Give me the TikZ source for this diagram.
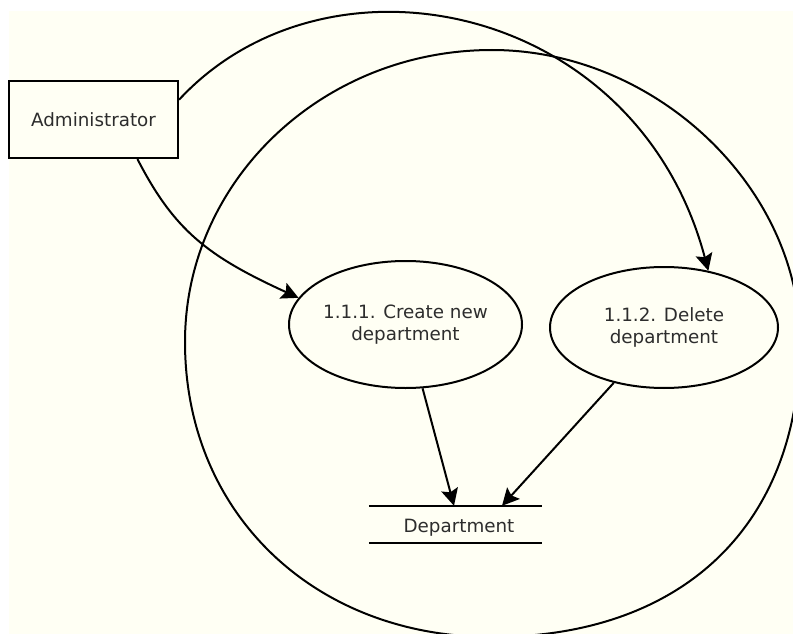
\documentclass[tikz,border=0pt]{standalone}
\usepackage{fontspec}
\setmainfont{DejaVu Sans}
\usetikzlibrary{arrows.meta,shapes.geometric}
\definecolor{bgcream}{RGB}{255,255,244}
\definecolor{txt}{RGB}{45,45,45}
\begin{document}
\begin{tikzpicture}[x=1pt,y=-1pt,
  every node/.style={font=\fontsize{18.3}{22}\selectfont, text=txt},
  entity/.style={draw, line width=2.1pt, minimum width=169pt, minimum height=77pt, inner sep=0pt},
  process/.style={draw, ellipse, line width=2pt, inner sep=0pt, align=center},
  flow/.style={line width=2pt, -{Stealth[length=17pt,width=17pt,inset=3pt]}},
  bigloop/.style={line width=2pt}]
\useasboundingbox (0,0) rectangle (793,634);
\clip (0,0) rectangle (793,634);
\fill[bgcream] (9,11) rectangle (793,634);
% large closed loop
\coordinate (L) at (185,342);
\coordinate (T) at (492,50);
\coordinate (R) at (800,342);
\coordinate (B) at (492,637);
\draw[bigloop] (L) .. controls (185,181) and (322,50) .. (T)
  .. controls (655,50) and (800,187) .. (R)
  .. controls (800,525) and (683,637) .. (B)
  .. controls (314,637) and (185,513) .. (L) -- cycle;
\node[entity] (admin) at (93.5,119.5) {Administrator};
\node[process, minimum width=233pt, minimum height=127pt] (create) at (405.5,324.5) {1.1.1. Create new\\department};
\node[process, minimum width=228pt, minimum height=121pt] (delete) at (664,327.5) {1.1.2. Delete\\department};
\node[minimum width=173pt, minimum height=37pt, inner sep=0pt] (store) at (455.5,524.5) {};
\node[anchor=base] (storelabel) at (459,532) {Department};
\draw[line width=2pt] (store.north west) -- (store.north east) (store.south west) -- (store.south east);
\draw[flow] (admin.-42) .. controls (174,230) and (207,256) .. (create.166);
\draw[flow] (admin.13) .. controls (327.6,-60.6) and (637,2) .. (delete.52);
\draw[flow] (create) -- ([xshift=-1.5pt]store.north);
\draw[flow] (delete) -- ([xshift=46.5pt]store.north);
\end{tikzpicture}
\end{document}
